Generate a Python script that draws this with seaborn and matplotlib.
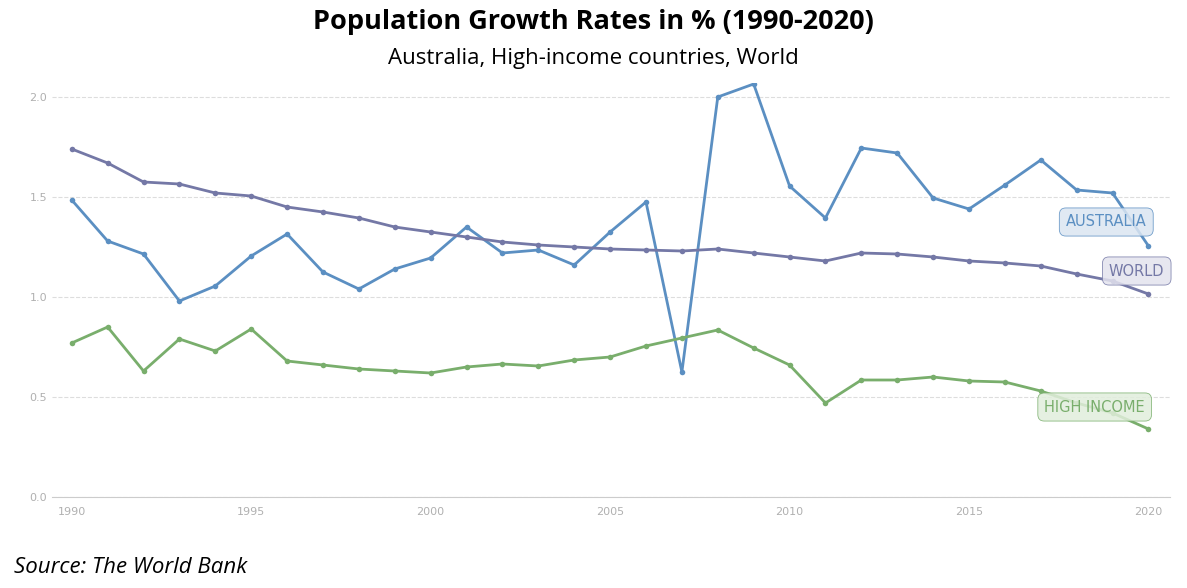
import numpy as np
import pandas as pd
import matplotlib.pyplot as plt
import seaborn as sns

# === Data ===
years = list(range(1990, 2021))
australia = [1.485, 1.28, 1.215, 0.98, 1.055, 1.205, 1.315, 1.125, 1.04, 1.14,
             1.195, 1.35, 1.22, 1.235, 1.16, 1.325, 1.475, 0.625, 2.0, 2.065,
             1.555, 1.395, 1.745, 1.72, 1.495, 1.44, 1.56, 1.685, 1.535, 1.52, 1.255]
world = [1.74, 1.67, 1.575, 1.565, 1.52, 1.505, 1.45, 1.425, 1.395, 1.35,
         1.325, 1.30, 1.275, 1.26, 1.25, 1.24, 1.235, 1.23, 1.24, 1.22,
         1.20, 1.18, 1.22, 1.215, 1.20, 1.18, 1.17, 1.155, 1.115, 1.08, 1.015]
high_income = [0.77, 0.85, 0.63, 0.79, 0.73, 0.84, 0.68, 0.66, 0.64, 0.63,
               0.62, 0.65, 0.665, 0.655, 0.685, 0.70, 0.755, 0.795, 0.835, 0.745,
               0.66, 0.47, 0.585, 0.585, 0.60, 0.58, 0.575, 0.53, 0.47, 0.42, 0.34]

df = pd.DataFrame({'Year': years, 'AUSTRALIA': australia, 'WORLD': world,
                   'HIGH INCOME': high_income})
long = df.melt(id_vars='Year', var_name='Series', value_name='Rate')

colors = {'AUSTRALIA': '#5b8fc2', 'WORLD': '#7478a6', 'HIGH INCOME': '#79ae6c'}
box_face = {'AUSTRALIA': '#dbe6f2', 'WORLD': '#e3e3ee', 'HIGH INCOME': '#e1eedc'}
label_y = {'AUSTRALIA': 1.375, 'WORLD': 1.13, 'HIGH INCOME': 0.45}
label_x = {'AUSTRALIA': 2017.7, 'WORLD': 2018.9, 'HIGH INCOME': 2017.1}

# === Plot ===
sns.set_style('white')
fig = plt.figure(figsize=(11.87, 5.88), dpi=100)
ax = fig.add_axes([52 / 1187, 91 / 588, 1118 / 1187, 414 / 588])

sns.lineplot(data=long, x='Year', y='Rate', hue='Series', palette=colors,
             marker='o', markersize=4, markeredgewidth=0, linewidth=2.0,
             legend=False, ax=ax)

for name in ['AUSTRALIA', 'WORLD', 'HIGH INCOME']:
    ax.text(label_x[name], label_y[name], name, color=colors[name], fontsize=10.5,
            va='center', ha='left',
            bbox=dict(boxstyle='round,pad=0.45', fc=box_face[name],
                      ec=colors[name], lw=0.6, alpha=0.85))

ax.set_xlim(1989.45, 2020.6)
ax.set_ylim(0, 2.07)
ax.set_yticks([0, 0.5, 1.0, 1.5, 2.0])
ax.set_yticklabels(['0.0', '0.5', '1.0', '1.5', '2.0'])
ax.set_xticks([1990, 1995, 2000, 2005, 2010, 2015, 2020])
ax.tick_params(colors='#b0b0b0', labelsize=8)
ax.tick_params(axis='x', length=4, color='#cccccc')
ax.tick_params(axis='y', length=0)
ax.yaxis.grid(True, linestyle='--', color='#dddddd', linewidth=0.8)
ax.set_axisbelow(True)
for s in ['top', 'right', 'left']:
    ax.spines[s].set_visible(False)
ax.spines['bottom'].set_color('#cccccc')
ax.set_xlabel('')
ax.set_ylabel('')

fig.text(0.5, 0.962, 'Population Growth Rates in % (1990-2020)', ha='center',
         va='center', fontsize=19.5, fontweight='bold', family='Open Sans',
         color='black')
fig.text(0.5, 0.900, 'Australia, High-income countries, World', ha='center',
         va='center', fontsize=16, family='Open Sans', color='black')
fig.text(0.012, 0.035, 'Source: The World Bank', ha='left', va='center',
         fontsize=16, style='italic', family='Open Sans', color='black')

fig.savefig('out.png', dpi=100)
